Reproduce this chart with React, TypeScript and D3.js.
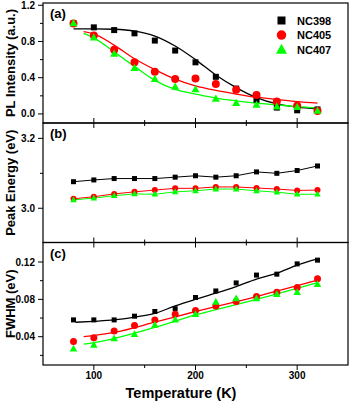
import React, { useEffect, useRef } from "react";
import * as d3 from "d3";

// temperatures (K) for all measured points
const temps = [80, 100, 120, 140, 160, 180, 200, 220, 240, 260, 280, 300, 320];

// (a) normalised PL intensity
const plNC398 = [1.0, 0.956, 0.926, 0.89, 0.81, 0.7, 0.57, 0.41, 0.28, 0.156, 0.07, 0.04, 0.05];
const plNC405 = [1.0, 0.867, 0.71, 0.57, 0.467, 0.385, 0.39, 0.33, 0.267, 0.21, 0.137, 0.09, 0.033];
const plNC407 = [1.0, 0.844, 0.663, 0.507, 0.385, 0.3, 0.27, 0.167, 0.12, 0.1, 0.08, 0.074, 0.033];

// (a) fit curves
const fitPL398T = [80, 100, 120, 140, 160, 180, 200, 220, 240, 260, 280, 300, 320];
const fitPL398 = [0.94, 0.94, 0.935, 0.915, 0.86, 0.75, 0.6, 0.43, 0.29, 0.18, 0.11, 0.075, 0.055];
const fitPLT = [90, 100, 120, 140, 160, 180, 200, 220, 240, 260, 280, 300, 320];
const fitPL405 = [0.91, 0.885, 0.76, 0.61, 0.49, 0.385, 0.31, 0.26, 0.22, 0.185, 0.16, 0.137, 0.12];
const fitPL407 = [0.89, 0.84, 0.685, 0.525, 0.37, 0.27, 0.22, 0.175, 0.144, 0.119, 0.1, 0.081, 0.067];

// (b) peak energy (eV)
const pe398 = [3.076, 3.081, 3.085, 3.085, 3.085, 3.089, 3.093, 3.089, 3.093, 3.104, 3.1, 3.108, 3.121];
const pe405 = [3.027, 3.033, 3.041, 3.047, 3.052, 3.057, 3.057, 3.061, 3.061, 3.058, 3.055, 3.051, 3.052];
const pe407 = [3.024, 3.029, 3.036, 3.041, 3.04, 3.047, 3.05, 3.055, 3.055, 3.05, 3.046, 3.04, 3.04];

// (c) FWHM (eV)
const fw398 = [0.058, 0.058, 0.058, 0.062, 0.067, 0.07, 0.082, 0.089, 0.0976, 0.106, 0.107, 0.118, 0.122];
const fw405 = [0.035, 0.039, 0.046, 0.052, 0.058, 0.064, 0.068, 0.073, 0.0776, 0.083, 0.0876, 0.0926, 0.102];
const fw407 = [0.027, 0.031, 0.038, 0.0425, 0.0526, 0.058, 0.064, 0.077, 0.081, 0.081, 0.0855, 0.0876, 0.096];

// (c) fit lines
const fitFW398T = [82, 100, 120, 140, 160, 180, 200, 220, 240, 260, 280, 300, 320];
const fitFW398 = [0.0555, 0.0565, 0.058, 0.061, 0.065, 0.073, 0.08, 0.0866, 0.0937, 0.1016, 0.108, 0.1166, 0.1233];
const fitFW405T = [90, 120, 160, 200, 260, 320];
const fitFW405 = [0.04, 0.0447, 0.0555, 0.067, 0.083, 0.1005];
const fitFW407T = [90, 100, 160, 200, 260, 320];
const fitFW407 = [0.032, 0.0336, 0.05, 0.0633, 0.08, 0.098];

const seriesNames = ["NC398", "NC405", "NC407"];
const colors = ["#000000", "#ff0000", "#00ff00"];

const App = () => {
  const ref = useRef<SVGSVGElement>(null);

  useEffect(() => {
    draw();
  });

  const draw = () => {
    const width = 350;
    const height = 403;
    const left = 43;
    const right = 348;
    const font = "Arial, 'Liberation Sans', sans-serif";

    const svg = d3.select(ref.current);
    svg.selectAll("*").remove();
    svg.attr("width", width).attr("height", height);

    const x = d3.scaleLinear().domain([50, 350]).range([left, right]);

    const panels = [
      { top: 3, bottom: 123, domain: [-0.1, 1.225], major: [0, 0.4, 0.8, 1.2], minor: [0.2, 0.6, 1.0], fmt: d3.format(".1f"), label: "PL Intensity (a.u.)", tag: "(a)" },
      { top: 123, bottom: 242.5, domain: [2.902, 3.244], major: [3.0, 3.2], minor: [3.1], fmt: d3.format(".1f"), label: "Peak Energy (eV)", tag: "(b)" },
      { top: 242.5, bottom: 365, domain: [0.0097, 0.1409], major: [0.04, 0.08, 0.12], minor: [0.02, 0.06, 0.1], fmt: d3.format(".2f"), label: "FWHM (eV)", tag: "(c)" },
    ];

    const ys = panels.map((p) =>
      d3.scaleLinear().domain(p.domain).range([p.bottom, p.top])
    );

    const xMajor = [100, 200, 300];
    const xMinor = [150, 250];

    panels.forEach((p, i) => {
      const y = ys[i];
      const g = svg.append("g");

      // frame
      g.append("rect")
        .attr("x", left)
        .attr("y", p.top)
        .attr("width", right - left)
        .attr("height", p.bottom - p.top)
        .attr("fill", "none")
        .attr("stroke", "#000")
        .attr("stroke-width", 1.2);

      // y ticks (outward)
      g.selectAll(".ymaj")
        .data(p.major)
        .enter()
        .append("line")
        .attr("x1", left - 5)
        .attr("x2", left)
        .attr("y1", (d) => y(d))
        .attr("y2", (d) => y(d))
        .attr("stroke", "#000")
        .attr("stroke-width", 1);
      g.selectAll(".ymin")
        .data(p.minor)
        .enter()
        .append("line")
        .attr("x1", left - 3)
        .attr("x2", left)
        .attr("y1", (d) => y(d))
        .attr("y2", (d) => y(d))
        .attr("stroke", "#000")
        .attr("stroke-width", 1);
      g.selectAll(".ylab")
        .data(p.major)
        .enter()
        .append("text")
        .attr("x", left - 8)
        .attr("y", (d) => y(d) + 3.5)
        .attr("text-anchor", "end")
        .style("font-family", font)
        .style("font-size", "10px")
        .style("font-weight", "bold")
        .text((d) => p.fmt(d));

      // x ticks: bottom of panel
      const bottomDir = i === 2 ? 1 : -1;
      g.selectAll(".xbmaj")
        .data(xMajor)
        .enter()
        .append("line")
        .attr("x1", (d) => x(d))
        .attr("x2", (d) => x(d))
        .attr("y1", p.bottom)
        .attr("y2", p.bottom + bottomDir * 5)
        .attr("stroke", "#000");
      g.selectAll(".xbmin")
        .data(xMinor)
        .enter()
        .append("line")
        .attr("x1", (d) => x(d))
        .attr("x2", (d) => x(d))
        .attr("y1", p.bottom)
        .attr("y2", p.bottom + bottomDir * 3)
        .attr("stroke", "#000");
      // top ticks inward for panels b and c
      if (i > 0) {
        g.selectAll(".xtmaj")
          .data(xMajor)
          .enter()
          .append("line")
          .attr("x1", (d) => x(d))
          .attr("x2", (d) => x(d))
          .attr("y1", p.top)
          .attr("y2", p.top + 5)
          .attr("stroke", "#000");
        g.selectAll(".xtmin")
          .data(xMinor)
          .enter()
          .append("line")
          .attr("x1", (d) => x(d))
          .attr("x2", (d) => x(d))
          .attr("y1", p.top)
          .attr("y2", p.top + 3)
          .attr("stroke", "#000");
      }

      // panel tag
      g.append("text")
        .attr("x", left + 7)
        .attr("y", p.top + 15)
        .style("font-family", font)
        .style("font-size", "13px")
        .style("font-weight", "bold")
        .text(p.tag);

      // y label
      const cy = (p.top + p.bottom) / 2;
      g.append("text")
        .attr("transform", `translate(15, ${cy}) rotate(-90)`)
        .attr("text-anchor", "middle")
        .style("font-family", font)
        .style("font-size", "13px")
        .style("font-weight", "bold")
        .text(p.label);
    });

    // x tick labels & title
    svg
      .selectAll(".xlab")
      .data(xMajor)
      .enter()
      .append("text")
      .attr("x", (d) => x(d))
      .attr("y", 379)
      .attr("text-anchor", "middle")
      .style("font-family", font)
      .style("font-size", "10px")
      .style("font-weight", "bold")
      .text((d) => d);

    svg
      .append("text")
      .attr("x", 181)
      .attr("y", 398)
      .attr("text-anchor", "middle")
      .style("font-family", font)
      .style("font-size", "14.5px")
      .style("font-weight", "bold")
      .text("Temperature (K)");

    const marker = (
      g: d3.Selection<SVGGElement, unknown, null, undefined>,
      kind: number,
      cx: number,
      cy: number,
      s: number
    ) => {
      if (kind === 0) {
        g.append("rect")
          .attr("x", cx - s / 2)
          .attr("y", cy - s / 2)
          .attr("width", s)
          .attr("height", s)
          .attr("fill", colors[0]);
      } else if (kind === 1) {
        g.append("circle")
          .attr("cx", cx)
          .attr("cy", cy)
          .attr("r", s / 2)
          .attr("fill", colors[1]);
      } else {
        const h = s * 0.9;
        g.append("path")
          .attr(
            "d",
            `M${cx},${cy - h * 0.6}L${cx + s / 2},${cy + h * 0.4}L${cx - s / 2},${cy + h * 0.4}Z`
          )
          .attr("fill", colors[2]);
      }
    };

    const curve = (
      yScale: d3.ScaleLinear<number, number>,
      ts: number[],
      vs: number[],
      color: string,
      w: number,
      c: d3.CurveFactory
    ) => {
      const line = d3
        .line<number>()
        .x((d, i) => x(ts[i]))
        .y((d) => yScale(d))
        .curve(c);
      svg
        .append("path")
        .attr("d", line(vs))
        .attr("fill", "none")
        .attr("stroke", color)
        .attr("stroke-width", w);
    };

    const points = (
      yScale: d3.ScaleLinear<number, number>,
      vs: number[],
      kind: number,
      s: number
    ) => {
      const g = svg.append("g");
      vs.forEach((v, i) => marker(g as any, kind, x(temps[i]), yScale(v), s));
    };

    const sizesA = [6, 8, 8];
    const sizesB = [5, 6, 6.5];
    const sizesC = [5, 7, 7.5];

    // (a)
    const pl = [plNC398, plNC405, plNC407];
    curve(ys[0], fitPL398T, fitPL398, colors[0], 1.3, d3.curveMonotoneX);
    curve(ys[0], fitPLT, fitPL405, colors[1], 1.3, d3.curveMonotoneX);
    curve(ys[0], fitPLT, fitPL407, colors[2], 1.3, d3.curveMonotoneX);
    pl.forEach((vs, k) => points(ys[0], vs, k, sizesA[k]));

    // (b)
    const pe = [pe398, pe405, pe407];
    pe.forEach((vs, k) => {
      curve(ys[1], temps, vs, colors[k], 1, d3.curveLinear);
    });
    pe.forEach((vs, k) => points(ys[1], vs, k, sizesB[k]));

    // (c)
    const fw = [fw398, fw405, fw407];
    curve(ys[2], fitFW398T, fitFW398, colors[0], 1.3, d3.curveMonotoneX);
    curve(ys[2], fitFW405T, fitFW405, colors[1], 1.3, d3.curveMonotoneX);
    curve(ys[2], fitFW407T, fitFW407, colors[2], 1.3, d3.curveMonotoneX);
    fw.forEach((vs, k) => points(ys[2], vs, k, sizesC[k]));

    // legend
    const lg = svg.append("g");
    seriesNames.forEach((name, k) => {
      const ly = 20.5 + k * 14.6;
      marker(lg as any, k, 281.5, ly, [8, 9.5, 11][k]);
      lg.append("text")
        .attr("x", 297)
        .attr("y", ly + 4)
        .style("font-family", font)
        .style("font-size", "11px")
        .style("font-weight", "bold")
        .text(name);
    });
  };

  return (
    <svg
      ref={ref}
      style={{ position: "absolute", left: 0, top: 0, background: "#fff" }}
    ></svg>
  );
};

export default App;
